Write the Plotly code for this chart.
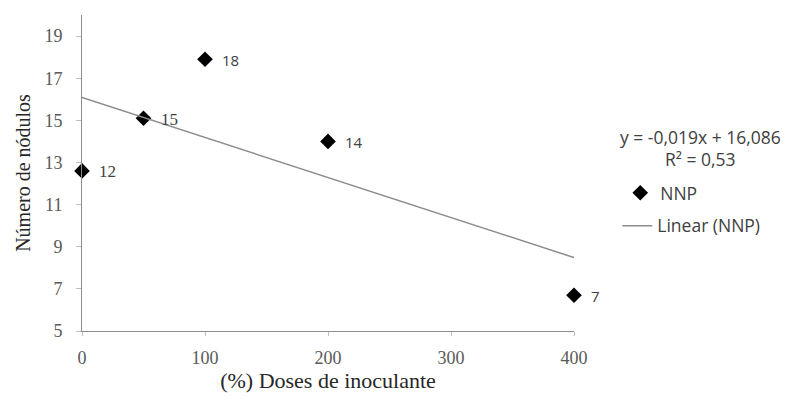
import plotly.graph_objects as go
import numpy as np

doses = [0, 50, 100, 200, 400]
nnp = [12.6, 15.1, 17.9, 14.0, 6.7]
labels = ["12", "15", "18", "14", "7"]
label_fonts = ["serif", "serif", "sans", "sans", "sans"]
slope = -0.019
intercept = 16.086
r2 = 0.53
x_ticks = [0, 100, 200, 300, 400]
y_ticks = [5, 7, 9, 11, 13, 15, 17, 19]

serif = "Liberation Serif, Times New Roman, serif"
sans = "Open Sans, Carlito, Calibri, sans-serif"

fig = go.Figure()
fig.add_trace(go.Scatter(
    x=doses, y=nnp, mode="markers", name="NNP", cliponaxis=False,
    marker=dict(symbol="diamond", size=12, color="black"),
    legend="legend"))
tx = np.array([min(doses), max(doses)])
fig.add_trace(go.Scatter(
    x=tx, y=slope * tx + intercept, mode="lines", name="Linear (NNP)",
    cliponaxis=False,
    line=dict(color="#8c8c8c", width=1.5), legend="legend2"))

for xv, yv, lb, ff in zip(doses, nnp, labels, label_fonts):
    fig.add_annotation(x=xv, y=yv, text=lb, showarrow=False, xanchor="left",
                       xshift=15, yshift=-1,
                       font=dict(family=serif if ff == "serif" else sans,
                                 size=17 if ff == "serif" else 15,
                                 color="#404040"))

fig.add_annotation(xref="paper", yref="paper", x=1.257, y=0.614,
                   text=f"y = {slope:.3f}x + {intercept:.3f}".replace(".", ","),
                   showarrow=False, xanchor="center", yanchor="middle",
                   font=dict(family=sans, size=17.5, color="#404040"))
fig.add_annotation(xref="paper", yref="paper", x=1.257, y=0.544,
                   text=f"R² = {r2:.2f}".replace(".", ","),
                   showarrow=False, xanchor="center", yanchor="middle",
                   font=dict(family=sans, size=17.5, color="#404040"))

leg = dict(font=dict(family=sans, size=17.5, color="#404040"),
           bgcolor="rgba(0,0,0,0)", xanchor="left", yanchor="middle")
fig.update_layout(
    width=787, height=401,
    margin=dict(l=82, r=213, t=15, b=70, autoexpand=False),
    paper_bgcolor="white", plot_bgcolor="white",
    showlegend=True,
    legend=dict(x=1.094, y=0.437, **leg),
    legend2=dict(x=1.088, y=0.333, **leg),
    xaxis=dict(range=[0, 400], tickvals=x_ticks, showgrid=False, zeroline=False,
               showline=True, linecolor="#8c8c8c", linewidth=1, automargin=False,
               ticks="outside", ticklen=4, tickcolor="#bfbfbf",
               ticklabelstandoff=6,
               tickfont=dict(family=serif, size=18, color="#595959"),
               title=dict(text="(%) Doses de inoculante", standoff=4,
                          font=dict(family=serif, size=22, color="#262626"))),
    yaxis=dict(range=[5, 20], tickvals=y_ticks, showgrid=False, zeroline=False,
               showline=True, linecolor="#8c8c8c", linewidth=1, automargin=False,
               ticks="outside", ticklen=5, tickcolor="#bfbfbf",
               ticklabelstandoff=10,
               tickfont=dict(family=serif, size=18, color="#595959"),
               title=dict(text="Número de nódulos", standoff=8,
                          font=dict(family=serif, size=20, color="#262626"))),
)

fig.write_html("out.html", config={"displayModeBar": False},
               post_script="document.body.style.margin='0px';")
